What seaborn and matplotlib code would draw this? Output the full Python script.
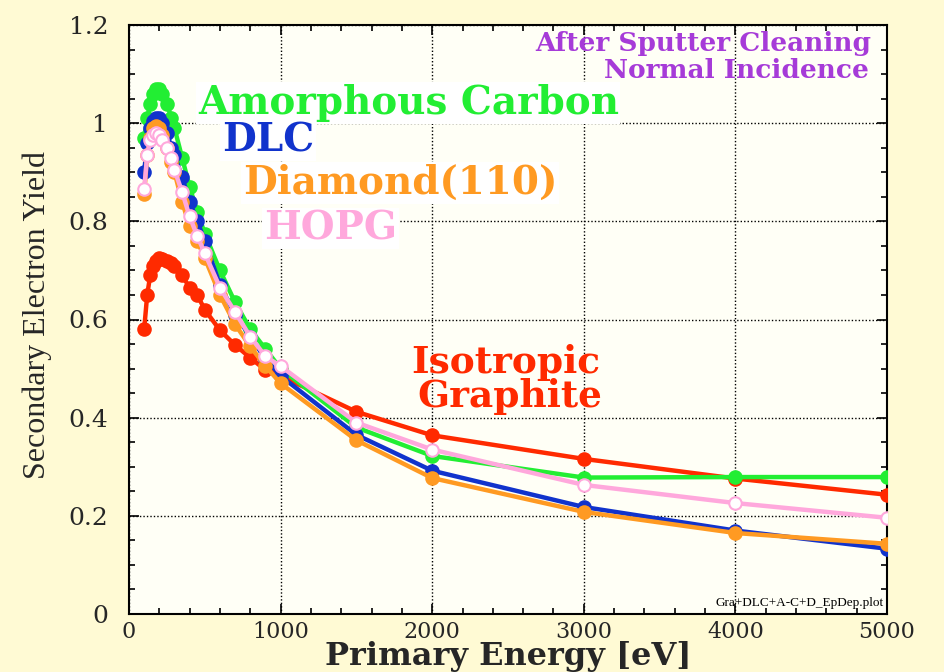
import matplotlib
matplotlib.use("Agg")
import matplotlib.pyplot as plt
import matplotlib.ticker as mticker
import numpy as np
import pandas as pd
import seaborn as sns

# Primary beam energies [eV]
energy = [100, 120, 140, 160, 180, 200, 220, 250, 280, 300, 350, 400, 450,
          500, 600, 700, 800, 900, 1000, 1500, 2000, 3000, 4000, 5000]

# Secondary electron yield per material
isotropic_graphite = [0.58, 0.65, 0.69, 0.71, 0.72, 0.725, 0.723, 0.72, 0.715,
                      0.71, 0.69, 0.665, 0.65, 0.62, 0.578, 0.548, 0.522,
                      0.497, 0.485, 0.412, 0.364, 0.316, 0.276, 0.243]
amorphous_carbon = [0.97, 1.01, 1.04, 1.06, 1.07, 1.07, 1.06, 1.04, 1.01,
                    0.99, 0.93, 0.87, 0.82, 0.775, 0.70, 0.635, 0.58, 0.54,
                    0.50, 0.38, 0.322, 0.278, 0.279, 0.279]
dlc = [0.90, 0.96, 0.99, 1.005, 1.01, 1.01, 1.0, 0.98, 0.95, 0.935, 0.89,
       0.84, 0.80, 0.76, 0.67, 0.61, 0.565, 0.52, 0.485, 0.365, 0.292, 0.218,
       0.17, 0.133]
diamond_110 = [0.855, 0.935, 0.97, 0.99, 0.995, 0.99, 0.975, 0.95, 0.92, 0.90,
               0.84, 0.79, 0.76, 0.725, 0.65, 0.59, 0.545, 0.505, 0.47, 0.354,
               0.277, 0.208, 0.165, 0.143]
hopg = [0.865, 0.935, 0.965, 0.975, 0.98, 0.975, 0.965, 0.95, 0.93, 0.905,
        0.86, 0.81, 0.77, 0.735, 0.665, 0.615, 0.565, 0.525, 0.505, 0.39,
        0.335, 0.263, 0.226, 0.196]

x_ticks = [0, 1000, 2000, 3000, 4000, 5000]
y_ticks = [0, 0.2, 0.4, 0.6, 0.8, 1.0, 1.2]

RED = "#FF2A00"
GREEN = "#22EE33"
BLUE = "#1133CC"
ORANGE = "#FF9A22"
PINK = "#FFA8DC"
PURPLE = "#A63BD8"

sns.set_theme(style="ticks")
plt.rcParams["font.family"] = ["DejaVu Serif"]

fig = plt.figure(figsize=(9.44, 6.72), dpi=100, facecolor="#FFFAD4")
ax = fig.add_axes([129 / 944, 1 - 614 / 672, (887 - 129) / 944, (614 - 25) / 672])
ax.set_facecolor("#FFFFF6")

series = [
    ("Isotropic Graphite", isotropic_graphite, RED, RED),
    ("Amorphous Carbon", amorphous_carbon, GREEN, GREEN),
    ("DLC", dlc, BLUE, BLUE),
    ("Diamond(110)", diamond_110, ORANGE, ORANGE),
    ("HOPG", hopg, PINK, "white"),
]

for z, (name, vals, col, face) in enumerate(series):
    df = pd.DataFrame({"energy": energy, "yield": vals})
    sns.lineplot(data=df, x="energy", y="yield", ax=ax, color=col,
                 linewidth=3.2, marker="o", markersize=9,
                 markerfacecolor=face, markeredgecolor=col,
                 markeredgewidth=1.5, zorder=3 + z, legend=False)

ax.set_xlim(0, 5000)
ax.set_ylim(0, 1.2)
ax.set_xticks(x_ticks)
ax.set_yticks(y_ticks)
ax.xaxis.set_major_formatter(mticker.FuncFormatter(lambda v, p: f"{v:g}"))
ax.yaxis.set_major_formatter(mticker.FuncFormatter(lambda v, p: f"{v:g}"))
ax.xaxis.set_minor_locator(mticker.MultipleLocator(200))
ax.yaxis.set_minor_locator(mticker.MultipleLocator(0.05))
ax.tick_params(which="both", direction="in", top=True, right=True,
               color="black", width=1.2)
ax.tick_params(which="major", length=7)
ax.tick_params(which="minor", length=4)
ax.tick_params(axis="x", which="major", pad=5, labelsize=16)
ax.tick_params(axis="y", which="major", pad=15, labelsize=18)
for sp in ax.spines.values():
    sp.set_color("black")
    sp.set_linewidth(1.5)

ax.grid(True, which="major", color="black", linestyle=(0, (1, 1.5)),
        linewidth=1.0, zorder=1)
ax.set_axisbelow(True)

ax.set_xlabel("Primary Energy [eV]", fontsize=23, fontweight="bold")
ax.xaxis.label.set_va("center")
ax.xaxis.set_label_coords(0.5, (614 - 657) / 589)
ax.set_ylabel("Secondary Electron Yield", fontsize=23,
              family=["Liberation Serif"])
ax.yaxis.label.set_va("center")
ax.yaxis.set_label_coords((37 - 129) / 758, 0.5 - (315 - 319.5) / 589)

box = dict(facecolor="white", edgecolor="none", pad=1)
lab = dict(fontweight="bold", va="center", zorder=10)
ax.text(454, 1.041, "Amorphous Carbon", color=GREEN, ha="left", fontsize=28,
        bbox=box, **lab)
ax.text(612, 0.965, "DLC", color=BLUE, ha="left", fontsize=28, bbox=box, **lab)
ax.text(751, 0.878, "Diamond(110)", color=ORANGE, ha="left", fontsize=28,
        bbox=box, **lab)
ax.text(890, 0.786, "HOPG", color=PINK, ha="left", fontsize=28, bbox=box, **lab)
ax.text(2488, 0.512, "Isotropic", color=RED, ha="center", fontsize=27, **lab)
ax.text(2515, 0.443, "Graphite", color=RED, ha="center", fontsize=27, **lab)

ax.text(4893, 1.163, "After Sputter Cleaning", color=PURPLE, ha="right",
        va="center", fontsize=19, fontweight="bold", zorder=10)
ax.text(4880, 1.108, "Normal Incidence", color=PURPLE, ha="right",
        va="center", fontsize=19, fontweight="bold", zorder=10)
ax.text(4975, 0.022, "Gra+DLC+A-C+D_EpDep.plot", color="black", ha="right",
        va="center", fontsize=9.5, family=["Liberation Serif"], zorder=10)

fig.savefig("out.png", dpi=100, facecolor=fig.get_facecolor())
